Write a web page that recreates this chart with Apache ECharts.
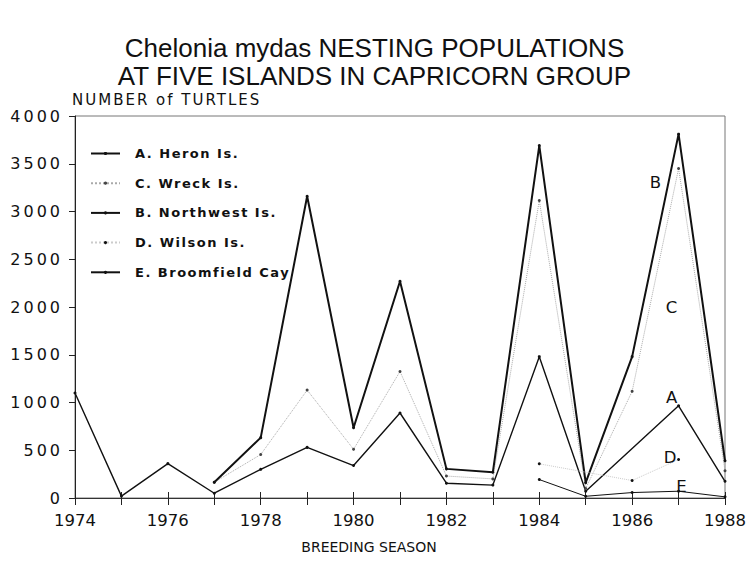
<!DOCTYPE html>
<html>
<head>
<meta charset="utf-8">
<script src="https://cdn.jsdelivr.net/npm/echarts@6/dist/echarts.min.js"></script>
<style>
  html, body { margin: 0; padding: 0; background: #fff; }
  #chart { width: 749px; height: 561px; }
  /* wide typewriter-like tracking for axis numbers, axis title and legend */
  #chart text[style*="16px"] { letter-spacing: 3px; }
  #chart text[style*="15px"] { letter-spacing: 2px; }
  #chart text[style*="13px"] { letter-spacing: 1.5px; }
</style>
</head>
<body>
<div id="chart"></div>
<script>
// Breeding seasons and nesting counts per island
const years = [1974, 1975, 1976, 1977, 1978, 1979, 1980, 1981, 1982, 1983, 1984, 1985, 1986, 1987, 1988];
const heron      = [1100, 20, 360, 50, 300, 530, 340, 890, 155, 135, 1480, 70, null, 965, 175];
const wreck      = [null, null, null, 165, 455, 1130, 510, 1325, 230, 200, 3115, 100, 1117, 3450, 285];
const northwest  = [null, null, null, 165, 632, 3160, 735, 2270, 305, 270, 3690, 160, 1480, 3810, 390];
const wilson     = [null, null, null, null, null, null, null, null, null, null, 358, null, 183, 403, null];
const broomfield = [null, null, null, null, null, null, null, null, null, null, 193, 18, 57, 71, 12];
const yTicks = [0, 500, 1000, 1500, 2000, 2500, 3000, 3500, 4000];

const FONT = 'DejaVu Sans';
const INK = '#111';

function pairs(values) {
  return years.map((y, i) => [y, values[i]]);
}

// Letter tags placed beside the curves
function tag(text, x, y) {
  return {
    coord: [x, y],
    symbol: 'circle',
    symbolSize: 0,
    label: { show: true, formatter: text, color: INK, fontFamily: FONT, fontSize: 16.5, position: 'inside' }
  };
}

const chart = echarts.init(document.getElementById('chart'), null, { renderer: 'svg' });

chart.setOption({
  animation: false,
  backgroundColor: '#fff',
  title: {
    text: 'Chelonia mydas NESTING POPULATIONS\nAT FIVE ISLANDS IN CAPRICORN GROUP',
    left: 'center',
    top: 34,
    padding: 0,
    textStyle: {
      fontFamily: 'Liberation Sans',
      fontWeight: 'normal',
      fontSize: 26,
      lineHeight: 28,
      color: INK
    }
  },
  grid: {
    left: 75, right: 22, top: 116, bottom: 63,
    show: true, borderColor: '#777', borderWidth: 1
  },
  legend: {
    orient: 'vertical',
    left: 90,
    top: 146,
    padding: 0,
    itemWidth: 29,
    itemHeight: 4,
    itemGap: 14.7,
    data: ['A. Heron Is.', 'C. Wreck Is.', 'B. Northwest Is.', 'D. Wilson Is.', 'E. Broomfield Cay'],
    textStyle: { fontFamily: FONT, fontSize: 13, fontWeight: 'bold', color: INK, lineHeight: 15, padding: [0, 0, 0, 10] }
  },
  xAxis: [{
    type: 'value',
    min: 1974, max: 1988, interval: 1,
    name: 'BREEDING SEASON',
    nameLocation: 'middle',
    nameGap: 42,
    nameTextStyle: { fontFamily: FONT, fontSize: 14, color: INK, padding: [0, 62, 0, 0] },
    axisLine: { show: true, onZero: false, lineStyle: { color: '#333', width: 1 } },
    axisTick: { show: true, length: 7, lineStyle: { color: '#222' } },
    axisLabel: {
      margin: 14, fontFamily: FONT, fontSize: 16.5, color: INK,
      formatter: v => (v % 2 === 0 ? String(v) : '')
    },
    splitLine: { show: false }
  }, {
    type: 'value',
    min: 1974, max: 1988, interval: 1,
    position: 'bottom',
    axisLine: { show: false },
    axisTick: { show: true, inside: true, length: 6, lineStyle: { color: '#222' } },
    axisLabel: { show: false },
    splitLine: { show: false }
  }],
  yAxis: {
    type: 'value',
    min: yTicks[0], max: yTicks[yTicks.length - 1], interval: 500,
    name: 'NUMBER of TURTLES',
    nameLocation: 'end',
    nameGap: 9,
    nameTextStyle: { fontFamily: FONT, fontSize: 15, color: INK, align: 'left', verticalAlign: 'bottom', padding: [0, 0, 0, -3] },
    axisLine: { show: true, lineStyle: { color: '#222', width: 1 } },
    axisTick: { show: true, length: 6, lineStyle: { color: '#222' } },
    axisLabel: { margin: 12, fontFamily: FONT, fontSize: 16, color: INK, formatter: v => String(v) },
    splitLine: { show: false }
  },
  series: [
    {
      name: 'A. Heron Is.',
      type: 'line',
      data: pairs(heron),
      connectNulls: true,
      symbol: 'circle', symbolSize: 3,
      itemStyle: { color: INK },
      lineStyle: { color: INK, width: 1.4 },
      markPoint: { silent: true, data: [tag('A', 1986.85, 1050)] }
    },
    {
      name: 'C. Wreck Is.',
      type: 'line',
      data: pairs(wreck),
      connectNulls: true,
      symbol: 'circle', symbolSize: 3,
      itemStyle: { color: '#444' },
      lineStyle: { color: '#aaa', width: 1, type: 'dotted' },
      markPoint: { silent: true, data: [tag('C', 1986.85, 2000)] }
    },
    {
      name: 'B. Northwest Is.',
      type: 'line',
      data: pairs(northwest),
      connectNulls: true,
      symbol: 'circle', symbolSize: 3,
      itemStyle: { color: INK },
      lineStyle: { color: INK, width: 2 },
      markPoint: { silent: true, data: [tag('B', 1986.5, 3300)] }
    },
    {
      name: 'D. Wilson Is.',
      type: 'line',
      data: pairs(wilson),
      connectNulls: true,
      symbol: 'circle', symbolSize: 3,
      itemStyle: { color: INK },
      lineStyle: { color: '#ccc', width: 1, type: 'dotted' },
      markPoint: { silent: true, data: [tag('D', 1986.82, 420)] }
    },
    {
      name: 'E. Broomfield Cay',
      type: 'line',
      data: pairs(broomfield),
      connectNulls: true,
      symbol: 'circle', symbolSize: 3,
      itemStyle: { color: INK },
      lineStyle: { color: INK, width: 1 },
      markPoint: { silent: true, data: [tag('E', 1987.06, 125)] }
    }
  ]
});
</script>
</body>
</html>
